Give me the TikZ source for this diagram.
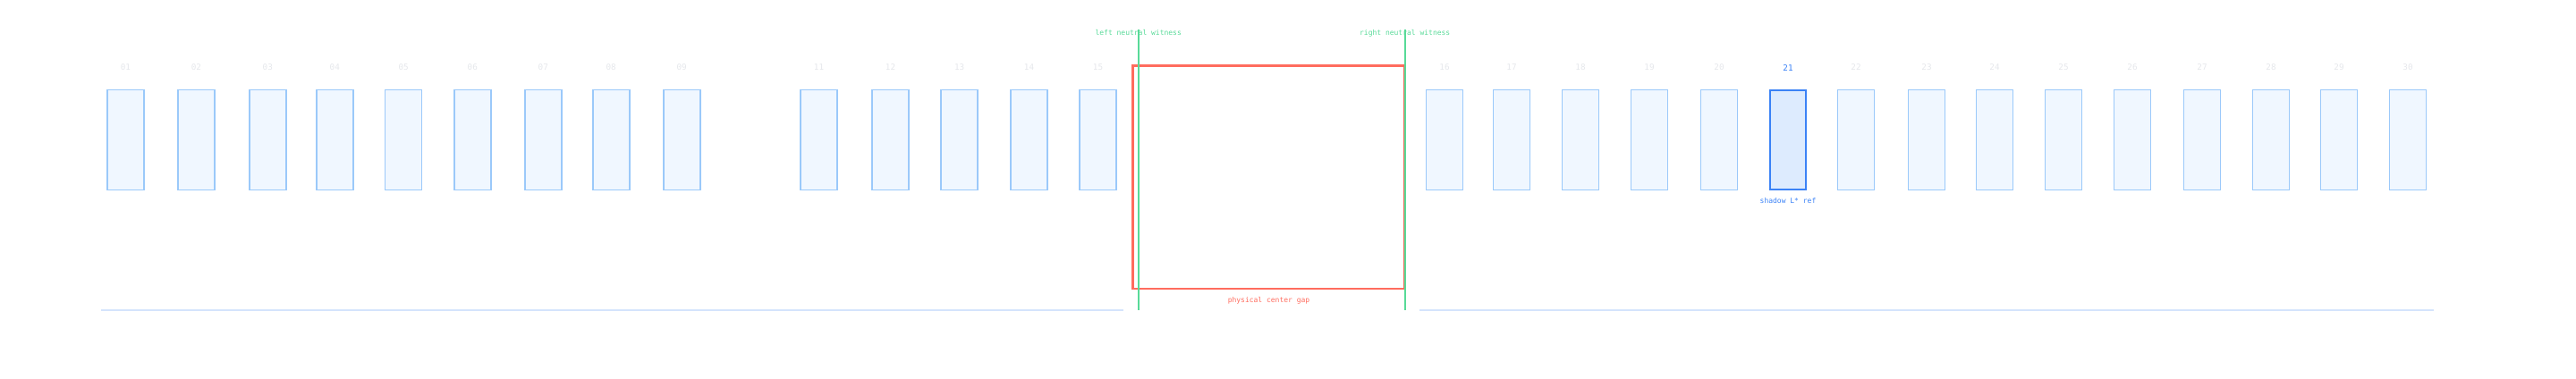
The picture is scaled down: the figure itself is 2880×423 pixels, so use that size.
\documentclass[tikz,border=0pt]{standalone}
\usepackage{fontspec}
\usepackage{tikz}
\usetikzlibrary{positioning,calc}
\setmonofont{DejaVu Sans Mono}
\definecolor{slotline}{RGB}{155,201,250}
\definecolor{slotfill}{RGB}{240,247,255}
\definecolor{hotblue}{RGB}{59,130,246}
\definecolor{hotfill}{RGB}{221,235,254}
\definecolor{gapred}{RGB}{255,108,94}
\definecolor{witgreen}{RGB}{88,218,152}
\definecolor{railblue}{RGB}{212,228,252}
\definecolor{numgray}{RGB}{229,231,235}

\tikzset{
  slot/.style={draw=slotline, fill=slotfill, line width=1.6pt, minimum width=41pt, minimum height=112pt, inner sep=0pt, outer sep=0pt},
  hotslot/.style={slot, draw=hotblue, fill=hotfill, line width=2.8pt, minimum width=40pt, minimum height=111pt},
  slotnum/.style={font=\ttfamily\fontsize{9.3}{10}\selectfont, text=numgray, inner sep=0pt, anchor=base},
  tag/.style={font=\ttfamily\fontsize{8}{9}\selectfont, inner sep=0pt, anchor=base},
  gapbox/.style={draw=gapred, line width=2.6pt, minimum width=304.4pt, minimum height=249.7pt, inner sep=0pt, outer sep=0pt},
  witness/.style={draw=witgreen, line width=1.8pt},
  rail/.style={draw=railblue, line width=2pt},
}

\begin{document}
\begin{tikzpicture}[x=1pt, y=-1pt]
    \useasboundingbox (0,0) rectangle (2880,423);
    % rail under the slots
    \coordinate (railLa) at (113,347);
    \coordinate (railLb) at (1256,347);
    \coordinate (railRa) at (1587,347);
    \coordinate (railRb) at (2721,347);
    \draw[rail] (railLa) -- (railLb);
    \draw[rail] (railRa) -- (railRb);
    % slots 01-30 (no 10, 21 drawn below)
    \foreach \i/\x in {01/140.4,02/219.4,03/299.3,04/374.3,05/451.1,06/528.3,07/607.3,08/683.2,09/762.2,
                       11/915.5,12/995.5,13/1072.7,14/1150.5,15/1227.5,16/1615,17/1690,18/1767,19/1844,20/1922,
                       22/2075,23/2154,24/2230,25/2307,26/2384,27/2462,28/2539,29/2615,30/2692} {
        \node[slot] (s\i) at (\x,156.5) {};
        \node[slotnum] (n\i) at ([yshift=22pt]s\i.north) {\i};
    }
    % highlighted slot
    \node[hotslot] (s21) at (1999,156.5) {};
    \node[slotnum, text=hotblue] (n21) at ([yshift=22pt]s21.north) {21};
    \node[tag, text=hotblue] (shadowtag) at ([yshift=-15.5pt]s21.south) {shadow L* ref};
    % center gap
    \node[gapbox] (gap) at (1418.5,198.2) {};
    \node[tag, text=gapred] (gaptag) at ([yshift=-15pt]gap.south) {physical center gap};
    % witnesses
    \node[tag, text=witgreen] (lefttag) at (1272.7,39.3) {left neutral witness};
    \node[tag, text=witgreen] (righttag) at (1570.7,39.3) {right neutral witness};
    \coordinate (wlTop) at (1272.7,33.3);
    \coordinate (wlBot) at (1272.7,346.7);
    \coordinate (wrTop) at (1570.7,33.3);
    \coordinate (wrBot) at (1570.7,346.7);
    \draw[witness] (wlTop) -- (wlBot);
    \draw[witness] (wrTop) -- (wrBot);
\end{tikzpicture}
\end{document}
